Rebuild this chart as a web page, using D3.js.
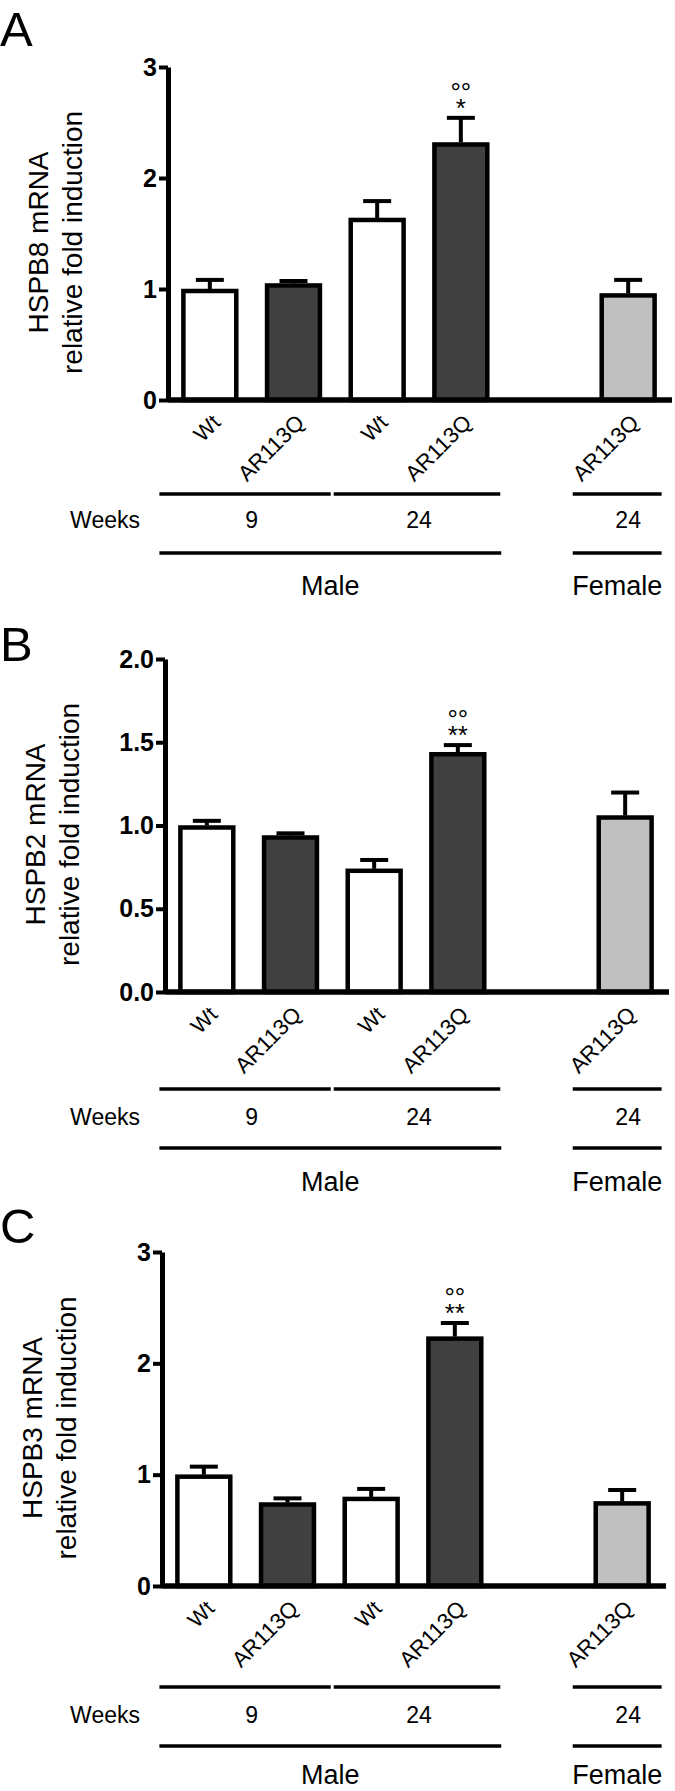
<!DOCTYPE html>
<html><head><meta charset="utf-8">
<script src="https://cdn.jsdelivr.net/npm/d3@7"></script>
<style>
html,body{margin:0;padding:0;background:#fff;}
svg{display:block;font-family:"Liberation Sans",Arial,Helvetica,sans-serif;}
</style></head>
<body>
<svg id="chart" width="675" height="1791"></svg>
<script>
// ---------- DATA ----------
const slotKeys   = ["M9-Wt","M9-AR113Q","M24-Wt","M24-AR113Q","gap","F24-AR113Q"];
const barKeys    = ["M9-Wt","M9-AR113Q","M24-Wt","M24-AR113Q","F24-AR113Q"];
const barLabels  = ["Wt","AR113Q","Wt","AR113Q","AR113Q"];
const barGroup   = ["wt","ar","wt","ar","female"];
const weekLabels = ["9","24","24"];
const sexLabels  = ["Male","Female"];

const hspb8Mean = [1.00, 1.05, 1.64, 2.32, 0.96];
const hspb8Sem  = [0.10, 0.04, 0.17, 0.24, 0.14];
const hspb2Mean = [1.00, 0.94, 0.74, 1.44, 1.06];
const hspb2Sem  = [0.04, 0.025, 0.065, 0.055, 0.15];
const hspb3Mean = [1.00, 0.75, 0.80, 2.24, 0.76];
const hspb3Sem  = [0.09, 0.055, 0.09, 0.14, 0.12];

const ticksA = [0, 1, 2, 3];
const ticksB = [0, 0.5, 1.0, 1.5, 2.0];
const ticksC = [0, 1, 2, 3];

const sigA = ["°°", "*"];
const sigB = ["°°", "**"];
const sigC = ["°°", "**"];
const sigBar = "M24-AR113Q";

// ---------- STYLE / LAYOUT ----------
const fillOf = {wt: "#ffffff", ar: "#404040", female: "#c0c0c0"};
const panels = [
  {letter:"A", gene:"HSPB8", mean:hspb8Mean, sem:hspb8Sem, ticks:ticksA, fmt:d3.format("d"), yMax:3,
   axisX:168, y0:400, yTop:67, letterY:46, line1:494, weeks:520, line2:553, sex:586, sig:sigA},
  {letter:"B", gene:"HSPB2", mean:hspb2Mean, sem:hspb2Sem, ticks:ticksB, fmt:d3.format(".1f"), yMax:2,
   axisX:165, y0:992, yTop:659, letterY:661, line1:1089, weeks:1117, line2:1148, sex:1182, sig:sigB},
  {letter:"C", gene:"HSPB3", mean:hspb3Mean, sem:hspb3Sem, ticks:ticksC, fmt:d3.format("d"), yMax:3,
   axisX:162, y0:1586, yTop:1252, letterY:1243, line1:1687, weeks:1715, line2:1746, sex:1775, sig:sigC}
];

const svg = d3.select("#chart");
const rowX = d3.scaleBand().domain(slotKeys).range([168, 670]).paddingInner(0.32).paddingOuter(0.16);

panels.forEach(p => {
  const g = svg.append("g");
  const x = d3.scaleBand().domain(slotKeys).range([p.axisX, p.axisX + 502]).paddingInner(0.32).paddingOuter(0.16);
  const y = d3.scaleLinear().domain([0, p.yMax]).range([p.y0, p.yTop]);
  const bw = x.bandwidth();

  // panel letter
  g.append("text").attr("x", 0).attr("y", p.letterY).attr("font-size", 49).text(p.letter);

  // y label
  const cy = (p.y0 + p.yTop) / 2 + 9;
  const yl = g.append("text").attr("transform", `translate(0,${cy}) rotate(-90)`)
    .attr("text-anchor", "middle").attr("font-size", 28);
  yl.append("tspan").attr("x", 0).attr("y", p.axisX - 168 + 48).text(p.gene + " mRNA");
  yl.append("tspan").attr("x", 0).attr("y", p.axisX - 168 + 82).text("relative fold induction");

  // bars
  const data = barKeys.map((k, i) => ({key:k, mean:p.mean[i], sem:p.sem[i], grp:barGroup[i], label:barLabels[i]}));
  g.selectAll("rect.bar").data(data).join("rect")
    .attr("x", d => x(d.key) + 2).attr("width", bw - 4)
    .attr("y", d => y(d.mean) + 2).attr("height", d => y(0) - y(d.mean) - 2)
    .attr("fill", d => fillOf[d.grp]).attr("stroke", "#000").attr("stroke-width", 4.5);

  // error bars
  g.selectAll("line.err").data(data).join("line")
    .attr("x1", d => x(d.key) + bw/2).attr("x2", d => x(d.key) + bw/2)
    .attr("y1", d => y(d.mean)).attr("y2", d => y(d.mean + d.sem) + 2)
    .attr("stroke", "#000").attr("stroke-width", 4);
  g.selectAll("line.cap").data(data).join("line")
    .attr("x1", d => x(d.key) + bw/2 - 14).attr("x2", d => x(d.key) + bw/2 + 14)
    .attr("y1", d => y(d.mean + d.sem) + 2).attr("y2", d => y(d.mean + d.sem) + 2)
    .attr("stroke", "#000").attr("stroke-width", 4);

  // significance marks
  const sd = data.find(d => d.key === sigBar);
  const sx = x(sd.key) + bw/2, sy = y(sd.mean + sd.sem);
  const st = g.append("text").attr("text-anchor", "middle").attr("font-size", 26);
  st.append("tspan").attr("x", sx).attr("y", sy - 15).text(p.sig[0]);
  st.append("tspan").attr("x", sx).attr("y", sy + 1).text(p.sig[1]);

  // y axis
  const ax = g.append("g").attr("transform", `translate(${p.axisX},0)`)
    .call(d3.axisLeft(y).tickValues(p.ticks).tickFormat(p.fmt).tickSize(9).tickSizeOuter(0).tickPadding(2));
  ax.select(".domain").attr("stroke-width", 5);
  ax.selectAll(".tick line").attr("stroke-width", 4);
  ax.selectAll(".tick text").attr("font-size", 25).attr("font-weight", "bold")
    .attr("font-family", "'Liberation Sans',Arial,sans-serif").attr("fill", "#000");

  // baseline
  g.append("line").attr("x1", p.axisX).attr("x2", p.axisX + 504)
    .attr("y1", p.y0).attr("y2", p.y0).attr("stroke", "#000").attr("stroke-width", 5.5);

  // rotated category labels
  g.selectAll("text.cat").data(data).join("text")
    .attr("transform", d => `translate(${x(d.key) + bw/2 + 12},${p.y0 + 24}) rotate(-45)`)
    .attr("text-anchor", "end").attr("font-size", 22).text(d => d.label);

  // week row
  const c = k => rowX(k) + rowX.bandwidth()/2;
  const segs1 = [[rowX("M9-Wt") - 22, rowX("M24-Wt") - 18], [rowX("M24-Wt") - 15, rowX("M24-AR113Q") + rowX.bandwidth() + 11],
                 [rowX("F24-AR113Q") - 27, rowX("F24-AR113Q") + rowX.bandwidth() + 5]];
  g.selectAll("line.r1").data(segs1).join("line")
    .attr("x1", d => d[0]).attr("x2", d => d[1]).attr("y1", p.line1).attr("y2", p.line1)
    .attr("stroke", "#000").attr("stroke-width", 3.5);
  const segs2 = [[rowX("M9-Wt") - 22, rowX("M24-AR113Q") + rowX.bandwidth() + 12],
                 [rowX("F24-AR113Q") - 27, rowX("F24-AR113Q") + rowX.bandwidth() + 5]];
  g.selectAll("line.r2").data(segs2).join("line")
    .attr("x1", d => d[0]).attr("x2", d => d[1]).attr("y1", p.line2).attr("y2", p.line2)
    .attr("stroke", "#000").attr("stroke-width", 3.5);

  g.append("text").attr("x", 140).attr("y", p.weeks).attr("dominant-baseline", "central")
    .attr("text-anchor", "end").attr("font-size", 23).text("Weeks");
  const weekPos = [(c("M9-Wt") + c("M9-AR113Q"))/2, (c("M24-Wt") + c("M24-AR113Q"))/2, c("F24-AR113Q")];
  g.selectAll("text.wk").data(weekLabels).join("text")
    .attr("x", (d, i) => weekPos[i]).attr("y", p.weeks).attr("dominant-baseline", "central")
    .attr("text-anchor", "middle").attr("font-size", 23).text(d => d);
  const sexPos = [(segs2[0][0] + segs2[0][1])/2, (segs2[1][0] + segs2[1][1])/2];
  g.selectAll("text.sx").data(sexLabels).join("text")
    .attr("x", (d, i) => sexPos[i]).attr("y", p.sex).attr("dominant-baseline", "central")
    .attr("text-anchor", "middle").attr("font-size", 27).text(d => d);
});
</script>
</body></html>
